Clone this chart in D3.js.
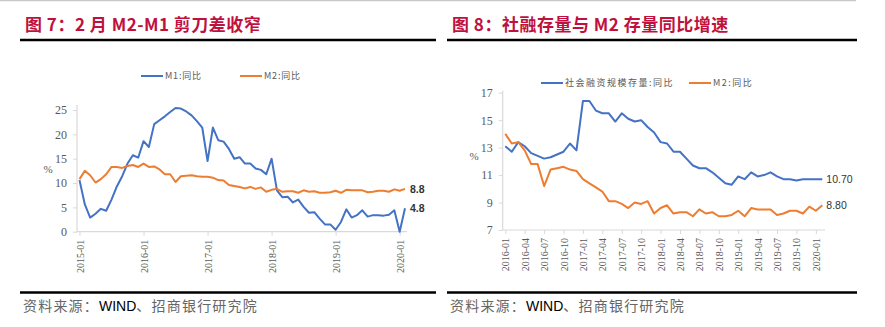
<!DOCTYPE html>
<html>
<head>
<meta charset="utf-8">
<script src="https://cdn.jsdelivr.net/npm/d3@7"></script>
<style>
  html, body { margin: 0; padding: 0; background: #fff; }
  svg { display: block; }
</style>
</head>
<body>
<svg id="chart" width="885" height="327"></svg>
<script>
// ---- Figure 7: M1 / M2 year-on-year, 2015-01 .. 2020-02 ----
const m1Yoy = [
  10.6, 5.6, 2.9, 3.7, 4.7, 4.3, 6.6, 9.3, 11.4, 14.0, 15.7, 15.2,
  18.6, 17.4, 22.1, 22.9, 23.7, 24.6, 25.4, 25.3, 24.7, 23.9, 22.7, 21.4,
  14.5, 21.4, 18.8, 18.5, 17.0, 15.0, 15.3, 14.0, 14.0, 13.0, 12.7, 11.8,
  15.0, 8.5, 7.1, 7.2, 6.0, 6.6, 5.1, 3.9, 4.0, 2.7, 1.5, 1.5,
  0.4, 2.0, 4.6, 2.9, 3.4, 4.4, 3.1, 3.4, 3.4, 3.3, 3.5, 4.4,
  0.0, 4.8
];
const m2YoyA = [
  10.8, 12.5, 11.6, 10.1, 10.8, 11.8, 13.3, 13.3, 13.1, 13.5, 13.7, 13.3,
  14.0, 13.3, 13.4, 12.8, 11.8, 11.8, 10.2, 11.4, 11.5, 11.6, 11.4, 11.3,
  11.3, 11.1, 10.6, 10.5, 9.6, 9.4, 9.2, 8.9, 9.2, 8.8, 9.1, 8.2,
  8.6, 8.8, 8.2, 8.3, 8.3, 8.0, 8.5, 8.2, 8.3, 8.0, 8.0, 8.1,
  8.4, 8.0, 8.6, 8.5, 8.5, 8.5, 8.1, 8.2, 8.4, 8.4, 8.2, 8.7,
  8.4, 8.8
];
const yTicksA = [0, 5, 10, 15, 20, 25];

// ---- Figure 8: TSF stock / M2 year-on-year, 2016-01 .. 2020-02 ----
const tsfYoy = [
  13.1, 12.7, 13.4, 13.1, 12.6, 12.4, 12.2, 12.3, 12.5, 12.7, 13.3, 12.8,
  16.4, 16.4, 15.7, 15.5, 15.5, 14.9, 15.5, 15.1, 14.9, 15.0, 14.5, 14.1,
  13.4, 13.3, 12.7, 12.7, 12.2, 11.7, 11.5, 11.5, 11.2, 10.8, 10.4, 10.3,
  10.9, 10.7, 11.2, 10.9, 11.0, 11.2, 10.9, 10.7, 10.7, 10.6, 10.7, 10.7,
  10.7, 10.7
];
const m2YoyB = [
  14.0, 13.3, 13.4, 12.8, 11.8, 11.8, 10.2, 11.4, 11.5, 11.6, 11.4, 11.3,
  10.7, 10.4, 10.1, 9.8, 9.1, 9.1, 8.9, 8.6, 9.0, 8.9, 9.1, 8.2,
  8.6, 8.8, 8.2, 8.3, 8.3, 8.0, 8.5, 8.2, 8.3, 8.0, 8.0, 8.1,
  8.4, 8.0, 8.6, 8.5, 8.5, 8.5, 8.1, 8.2, 8.4, 8.4, 8.2, 8.7,
  8.4, 8.8
];
const yTicksB = [7, 9, 11, 13, 15, 17];

// month category labels "YYYY-MM"
function monthRange(startYear, count) {
  const out = [];
  for (let i = 0; i < count; i++) {
    const y = startYear + Math.floor(i / 12);
    const m = (i % 12) + 1;
    out.push(y + "-" + (m < 10 ? "0" + m : m));
  }
  return out;
}
const monthsA = monthRange(2015, m1Yoy.length);
const monthsB = monthRange(2016, tsfYoy.length);
const xTickLabelsA = monthsA.filter(d => d.endsWith("-01"));
const xTickLabelsB = monthsB.filter((d, i) => i % 3 === 0);

const BLUE = "#4472C4", ORANGE = "#ED7D31";
const TITLE_RED = "#C0103E";
const AXIS_GRAY = "#D9D9D9", LABEL_GRAY = "#595959";
const CJK = "'Noto Sans CJK SC', 'Noto Sans', sans-serif";
const SERIF = "'Liberation Serif', 'DejaVu Serif', serif";
const SANS = "'Liberation Sans', Arial, sans-serif";

const svg = d3.select("#chart");

// thin rule along the page top
svg.append("line").attr("x1", 0).attr("x2", 856).attr("y1", 0.5).attr("y2", 0.5)
  .attr("stroke", "#C8C8C8").attr("stroke-width", 1.5);

function panelFrame(x0, x1, title) {
  svg.append("text").attr("x", x0 + 5).attr("y", 31)
    .attr("font-family", CJK).attr("font-weight", "bold").attr("font-size", 17)
    .attr("letter-spacing", 0.5).attr("fill", TITLE_RED).text(title);
  svg.append("line").attr("x1", x0).attr("x2", x1).attr("y1", 40).attr("y2", 40)
    .attr("stroke", "#000").attr("stroke-width", 2.5);
  svg.append("line").attr("x1", x0).attr("x2", x1).attr("y1", 292.5).attr("y2", 292.5)
    .attr("stroke", "#000").attr("stroke-width", 2.5);
  const src = svg.append("text").attr("x", x0 + 3).attr("y", 311)
    .attr("font-family", CJK).attr("font-size", 14).attr("letter-spacing", 1.2);
  src.append("tspan").attr("fill", "#666").text("资料来源：");
  src.append("tspan").attr("fill", "#000").attr("font-family", SANS).attr("letter-spacing", 0).text("WIND");
  src.append("tspan").attr("fill", "#666").text("、招商银行研究院");
}

function drawChart(cfg) {
  const x = d3.scalePoint().domain(cfg.months).range(cfg.xRange);
  const y = d3.scaleLinear().domain(cfg.yDomain).range(cfg.yRange);
  const g = svg.append("g");

  // y axis
  const yAxis = g.append("g").attr("transform", `translate(${cfg.axisX},0)`)
    .call(d3.axisLeft(y).tickValues(cfg.yTicks).tickSize(4).tickSizeOuter(0).tickPadding(6));
  yAxis.select(".domain").remove();
  yAxis.selectAll(".tick line").attr("stroke", AXIS_GRAY);
  yAxis.selectAll(".tick text").attr("font-family", SERIF).attr("font-size", 12).attr("fill", LABEL_GRAY);
  g.append("line").attr("x1", cfg.axisX).attr("x2", cfg.axisX)
    .attr("y1", cfg.yRange[1] - cfg.axisTopPad).attr("y2", cfg.yRange[0])
    .attr("stroke", AXIS_GRAY).attr("stroke-width", 1.2);
  g.append("text").attr("x", cfg.pctX).attr("y", cfg.pctY)
    .attr("font-family", SERIF).attr("font-size", 11).attr("fill", LABEL_GRAY)
    .attr("text-anchor", "middle").text("%");

  // x axis
  const axisY = cfg.yRange[0];
  const xAxis = g.append("g").attr("transform", `translate(0,${axisY})`)
    .call(d3.axisBottom(x).tickValues(cfg.xTicks).tickSize(4).tickSizeOuter(0));
  xAxis.select(".domain").remove();
  xAxis.selectAll(".tick line").attr("stroke", AXIS_GRAY);
  xAxis.selectAll(".tick text")
    .attr("font-family", SERIF).attr("font-size", 10).attr("fill", LABEL_GRAY)
    .attr("text-anchor", "end").attr("transform", "translate(0,4) rotate(-90)")
    .attr("x", -4).attr("y", 0).attr("dy", "0.35em");
  g.append("line").attr("x1", cfg.axisX).attr("x2", cfg.axisEnd)
    .attr("y1", axisY).attr("y2", axisY).attr("stroke", AXIS_GRAY).attr("stroke-width", 1.2);

  // series
  cfg.series.forEach(s => {
    const line = d3.line().x((d, i) => x(cfg.months[i])).y(d => y(d));
    g.append("path").datum(s.values).attr("d", line)
      .attr("fill", "none").attr("stroke", s.color).attr("stroke-width", 2)
      .attr("stroke-linejoin", "round");
    const last = s.values.length - 1;
    g.append("text").attr("x", x(cfg.months[last]) + cfg.endDx).attr("y", y(s.values[last]))
      .attr("dy", "0.35em").attr("font-family", SANS).attr("font-size", 10.5)
      .attr("font-weight", cfg.endBold ? "bold" : "normal").attr("fill", "#333")
      .text(s.endLabel);
  });

  // legend
  cfg.series.forEach(s => {
    g.append("line").attr("x1", s.legendX).attr("x2", s.legendX + 22)
      .attr("y1", cfg.legendY).attr("y2", cfg.legendY)
      .attr("stroke", s.color).attr("stroke-width", 2);
    g.append("text").attr("x", s.legendX + 24).attr("y", cfg.legendY).attr("dy", "0.35em")
      .attr("font-family", CJK).attr("font-size", 9).attr("letter-spacing", cfg.legendSpacing)
      .attr("fill", LABEL_GRAY).text(s.name);
  });
}

panelFrame(20, 436, "图 7：2 月 M2-M1 剪刀差收窄");
panelFrame(447, 857, "图 8：社融存量与 M2 存量同比增速");

drawChart({
  months: monthsA, xRange: [79.5, 405], xTicks: xTickLabelsA,
  yDomain: [0, 25], yRange: [231.7, 110], yTicks: yTicksA,
  axisX: 77, axisEnd: 407, axisTopPad: 5, pctX: 48, pctY: 173,
  endDx: 5, endBold: true, legendY: 76, legendSpacing: 0.8,
  series: [
    { name: "M1:同比", values: m1Yoy, color: BLUE, endLabel: "4.8", legendX: 141 },
    { name: "M2:同比", values: m2YoyA, color: ORANGE, endLabel: "8.8", legendX: 240 }
  ]
});

drawChart({
  months: monthsB, xRange: [505.3, 822.3], xTicks: xTickLabelsB,
  yDomain: [7, 17], yRange: [230, 92.7], yTicks: yTicksB,
  axisX: 502.7, axisEnd: 825, axisTopPad: 2, pctX: 474, pctY: 160,
  endDx: 4, endBold: false, legendY: 83, legendSpacing: 1.5,
  series: [
    { name: "社会融资规模存量:同比", values: tsfYoy, color: BLUE, endLabel: "10.70", legendX: 541 },
    { name: "M2:同比", values: m2YoyB, color: ORANGE, endLabel: "8.80", legendX: 689 }
  ]
});
</script>
</body>
</html>
